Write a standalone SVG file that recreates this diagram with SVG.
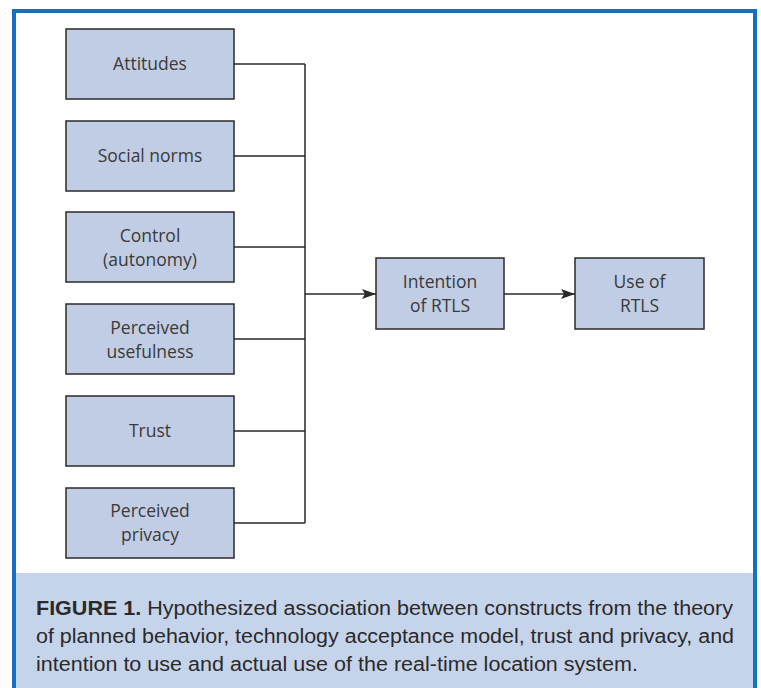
<svg xmlns="http://www.w3.org/2000/svg" width="761" height="688" viewBox="0 0 761 688">
<style>
.box{fill:#c1cde4;stroke:#2a2a2a;stroke-width:1.5}
.lbl{font-family:"Open Sans","Liberation Sans",sans-serif;font-size:17.5px;fill:#3a3a3a;text-anchor:middle}
.con{fill:none;stroke:#2a2a2a;stroke-width:1.5}
.cap{font-family:"Liberation Sans","Noto Sans",sans-serif;font-size:19.5px;fill:#2a2a2a}
</style>
<defs>
<marker id="ah" viewBox="0 0 14 10" refX="14" refY="5" markerWidth="14" markerHeight="10" markerUnits="userSpaceOnUse" orient="auto">
<path d="M0,0 L14,5 L0,10 L3,5 Z" fill="#2a2a2a"/>
</marker>
</defs>
<rect x="0" y="0" width="761" height="688" fill="#ffffff"/>
<rect x="16" y="573" width="737" height="115" fill="#c6d4eb"/>
<path d="M14,688 L14,11 L755,11 L755,688" fill="none" stroke="#1570bd" stroke-width="4"/>
<g id="connectors">
<path class="con" d="M234,64 H305 M234,156 H305 M234,247 H305 M234,339 H305 M234,431 H305 M234,523 H305 M305,64 V523"/>
<path class="con" d="M305,294 H376" marker-end="url(#ah)"/>
<path class="con" d="M504,294 H575" marker-end="url(#ah)"/>
</g>
<g id="attitudes"><rect class="box" x="66" y="29" width="168" height="70"/><text class="lbl" x="150" y="70">Attitudes</text></g>
<g id="social-norms"><rect class="box" x="66" y="121" width="168" height="70"/><text class="lbl" x="150" y="162">Social norms</text></g>
<g id="control"><rect class="box" x="66" y="212" width="168" height="70"/><text class="lbl" x="150" y="242">Control</text><text class="lbl" x="150" y="266">(autonomy)</text></g>
<g id="perceived-usefulness"><rect class="box" x="66" y="304" width="168" height="70"/><text class="lbl" x="150" y="334">Perceived</text><text class="lbl" x="150" y="358">usefulness</text></g>
<g id="trust"><rect class="box" x="66" y="396" width="168" height="70"/><text class="lbl" x="150" y="437">Trust</text></g>
<g id="perceived-privacy"><rect class="box" x="66" y="488" width="168" height="70"/><text class="lbl" x="150" y="517">Perceived</text><text class="lbl" x="150" y="541">privacy</text></g>
<g id="intention"><rect class="box" x="376" y="258" width="128" height="71"/><text class="lbl" x="440" y="288">Intention</text><text class="lbl" x="440" y="312">of RTLS</text></g>
<g id="use"><rect class="box" x="575" y="258" width="129" height="71"/><text class="lbl" x="639.5" y="288">Use of</text><text class="lbl" x="639.5" y="312">RTLS</text></g>
<g id="caption">
<text class="cap" x="36" y="615" textLength="697" lengthAdjust="spacingAndGlyphs"><tspan font-weight="bold">FIGURE 1.</tspan> Hypothesized association between constructs from the theory</text>
<text class="cap" x="36" y="643" textLength="698" lengthAdjust="spacingAndGlyphs">of planned behavior, technology acceptance model, trust and privacy, and</text>
<text class="cap" x="36" y="671" textLength="602" lengthAdjust="spacingAndGlyphs">intention to use and actual use of the real-time location system.</text>
</g>
</svg>
